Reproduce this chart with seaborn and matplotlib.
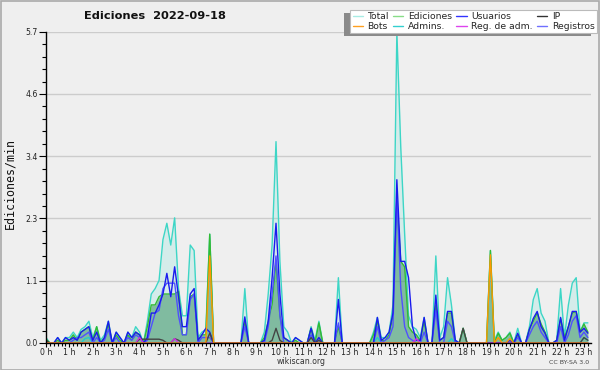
import numpy as np
import pandas as pd
import matplotlib
matplotlib.use("Agg")
import matplotlib.pyplot as plt
import seaborn as sns
from matplotlib.lines import Line2D
from matplotlib.patches import Rectangle
from matplotlib.ticker import FixedLocator, MultipleLocator

# ---- data: edits per minute, one value per 10-minute slot (0:00 .. 23:10) ----
hour_labels = [f"{h} h" for h in range(24)]

total = [
    0.1, 0, 0, 0.1, 0, 0.1,
    0.1, 0.2, 0.1, 0.25, 0.3, 0.4,
    0.1, 0.3, 0.05, 0.15, 0.4, 0,
    0.2, 0.1, 0, 0.2, 0.1, 0.3,
    0.2, 0, 0.4, 0.9, 1.0, 1.15,
    1.9, 2.2, 1.8, 2.3, 1.0, 0.5,
    0.5, 1.8, 1.7, 0.1, 0.2, 0.25,
    2.0, 0, 0, 0, 0, 0,
    0, 0, 0, 1.0, 0, 0,
    0, 0, 0.2, 0.9, 1.8, 3.7,
    1.5, 0.3, 0.2, 0, 0.1, 0.05,
    0, 0, 0.3, 0.05, 0.4, 0,
    0, 0, 0, 1.2, 0, 0,
    0, 0, 0, 0, 0, 0,
    0.2, 0.47, 0.1, 0.1, 0.2, 0.7,
    5.72, 3.6, 2.0, 0.5, 0.3, 0.25,
    0.1, 0.47, 0, 0, 1.6, 0.1,
    0.3, 1.2, 0.7, 0.05, 0, 0.27,
    0, 0, 0, 0, 0, 0,
    1.7, 0.05, 0.2, 0.05, 0.1, 0.2,
    0, 0.27, 0, 0, 0.3, 0.8,
    1.0, 0.55, 0.4, 0, 0, 0.05,
    1.0, 0.1, 0.7, 1.1, 1.2, 0.2,
    0.37, 0.37,
]

ediciones = [
    0.07, 0, 0, 0.05, 0, 0.05,
    0.05, 0.15, 0.05, 0.2, 0.25, 0.3,
    0.05, 0.3, 0, 0.1, 0.35, 0,
    0.15, 0.05, 0, 0.15, 0.05, 0.2,
    0.15, 0, 0.3, 0.7, 0.7, 0.85,
    0.9, 0.9, 0.9, 0.9, 0.95, 0.15,
    0.15, 0.85, 0.9, 0.05, 0.15, 0.15,
    2.0, 0, 0, 0, 0, 0,
    0, 0, 0, 0.4, 0, 0,
    0, 0, 0.1, 0.4, 0.7, 1.5,
    0.5, 0.1, 0.05, 0, 0.05, 0,
    0, 0, 0.27, 0, 0.37, 0,
    0, 0, 0, 0.3, 0, 0,
    0, 0, 0, 0, 0, 0,
    0.15, 0.4, 0.05, 0.05, 0.15, 0.5,
    2.6, 1.5, 1.4, 0.3, 0.2, 0.15,
    0.05, 0.4, 0, 0, 0.7, 0.05,
    0.1, 0.55, 0.55, 0, 0, 0.27,
    0, 0, 0, 0, 0, 0,
    1.7, 0, 0.18, 0.05, 0.1, 0.18,
    0, 0.15, 0, 0, 0.25, 0.4,
    0.55, 0.35, 0.2, 0, 0, 0.05,
    0.45, 0.1, 0.3, 0.55, 0.58, 0.2,
    0.35, 0.2,
]

usuarios = [
    0, 0, 0, 0.1, 0, 0.1,
    0.05, 0.1, 0.05, 0.2, 0.25, 0.3,
    0.05, 0.2, 0, 0.1, 0.4, 0,
    0.2, 0.1, 0, 0.2, 0.1, 0.2,
    0.15, 0, 0.1, 0.55, 0.55, 0.7,
    0.9, 1.28, 0.85, 1.4, 0.85, 0.3,
    0.3, 0.9, 1.0, 0.05, 0.15, 0.27,
    0.2, 0, 0, 0, 0, 0,
    0, 0, 0, 0.48, 0, 0,
    0, 0, 0.05, 0.4, 1.2, 2.2,
    0.9, 0.1, 0.05, 0, 0.1, 0.05,
    0, 0, 0.27, 0, 0.1, 0,
    0, 0, 0, 0.8, 0, 0,
    0, 0, 0, 0, 0, 0,
    0, 0.47, 0.05, 0.1, 0.2, 0.55,
    3.0, 1.5, 1.5, 1.2, 0.3, 0.05,
    0.05, 0.47, 0, 0, 0.88, 0.05,
    0.1, 0.58, 0.58, 0.05, 0, 0,
    0, 0, 0, 0, 0, 0,
    0, 0, 0, 0, 0, 0.05,
    0, 0.18, 0, 0, 0.25, 0.45,
    0.58, 0.3, 0.18, 0, 0, 0.05,
    0.47, 0.05, 0.3, 0.58, 0.58, 0.2,
    0.27, 0.18,
]

registros = [
    0, 0, 0, 0, 0, 0,
    0, 0.05, 0.1, 0.1, 0.15, 0.2,
    0, 0.1, 0, 0.05, 0.25, 0,
    0.1, 0, 0, 0.1, 0.05, 0.15,
    0.1, 0, 0.05, 0.3, 0.55, 0.6,
    1.0, 1.1, 1.1, 1.1, 0.5, 0.15,
    0.15, 0.8, 0.9, 0, 0.1, 0.1,
    0.1, 0, 0, 0, 0, 0,
    0, 0, 0, 0.3, 0, 0,
    0, 0, 0, 0.3, 0.9, 1.6,
    0.5, 0, 0, 0, 0, 0,
    0, 0, 0.15, 0, 0.05, 0,
    0, 0, 0, 0.37, 0, 0,
    0, 0, 0, 0, 0, 0,
    0, 0.3, 0, 0.05, 0.1, 0.3,
    2.7, 1.0, 0.3, 0.1, 0.05, 0,
    0, 0.2, 0, 0, 0.6, 0,
    0, 0.4, 0.3, 0, 0, 0,
    0, 0, 0, 0, 0, 0,
    0, 0, 0, 0, 0, 0,
    0, 0.1, 0, 0, 0.15, 0.3,
    0.4, 0.2, 0.1, 0, 0, 0,
    0.3, 0, 0.15, 0.4, 0.5, 0.1,
    0.2, 0.1,
]

ip = [
    0.05, 0, 0, 0, 0, 0,
    0, 0, 0, 0, 0, 0,
    0, 0, 0, 0, 0, 0,
    0, 0, 0, 0, 0, 0,
    0.07, 0.07, 0.07, 0.07, 0.07, 0.07,
    0.05, 0, 0, 0.08, 0.05, 0,
    0, 0, 0, 0, 0, 0,
    0.18, 0, 0, 0, 0, 0,
    0, 0, 0, 0, 0, 0,
    0, 0, 0, 0, 0.05, 0.27,
    0.05, 0, 0, 0, 0, 0,
    0, 0, 0.1, 0, 0.05, 0,
    0, 0, 0, 0, 0, 0,
    0, 0, 0, 0, 0, 0,
    0, 0, 0, 0, 0, 0,
    0, 0, 0, 0, 0, 0,
    0, 0, 0, 0, 0, 0,
    0, 0, 0, 0, 0, 0.27,
    0, 0, 0, 0, 0, 0,
    0, 0, 0, 0, 0, 0,
    0, 0, 0, 0, 0, 0,
    0, 0, 0, 0, 0, 0,
    0, 0, 0, 0, 0, 0,
    0.1, 0.05,
]

bots = [0.0] * 42 + [1.6] + [0.0] * 71 + [1.62, 0, 0.1, 0, 0, 0.08] + [0.0] * 20
admins = [0.0] * 10 + [0.08, 0.1] + [0.0] * 73 + [0.1] + [0.0] * 18 + [0.08] + [0.0] * 33 + [0.1, 0.05]
reg_adm = [0.0] * 24 + [0.1] + [0.0] * 8 + [0.08] + [0.0] * 61 + [0.08] + [0.0] * 44

# ---- styling ----
sns.set_theme(style="white")
plt.rcParams["font.family"] = ["DejaVu Sans"]
BG = "#efefef"

n = len(total)
df = pd.DataFrame({
    "t": np.arange(n) / 6.0,
    "Total": total, "Ediciones": ediciones, "Usuarios": usuarios,
    "Registros": registros, "IP": ip, "Bots": bots,
    "Admins.": admins, "Reg. de adm.": reg_adm,
})
ymax = max(total)

fig = plt.figure(figsize=(6, 3.7), dpi=100)
fig.patch.set_facecolor(BG)
ax = fig.add_axes([46 / 600, 1 - 343 / 370, (591 - 46) / 600, (343 - 31.7) / 370])
ax.set_facecolor(BG)

lw = 1.0
ax.fill_between(df["t"], df["Total"], color="#40e0d0", alpha=0.15, lw=0, zorder=2)
sns.lineplot(data=df, x="t", y="Total", color="#3dd6c6", lw=lw, estimator=None, ax=ax, zorder=3)
ax.fill_between(df["t"], df["Ediciones"], color="#2e8b57", alpha=0.5, lw=0, zorder=4)
sns.lineplot(data=df, x="t", y="Ediciones", color="#33bb33", lw=lw, estimator=None, ax=ax, zorder=5)
sns.lineplot(data=df, x="t", y="Admins.", color="#22cccc", lw=lw, estimator=None, ax=ax, zorder=6)
sns.lineplot(data=df, x="t", y="Registros", color="#5050ff", lw=lw, estimator=None, ax=ax, zorder=6)
sns.lineplot(data=df, x="t", y="Usuarios", color="#1a1aee", lw=lw, estimator=None, ax=ax, zorder=7)
sns.lineplot(data=df, x="t", y="IP", color="#444444", lw=lw, estimator=None, ax=ax, zorder=8)
sns.lineplot(data=df, x="t", y="Reg. de adm.", color="#cc33dd", lw=lw, estimator=None, ax=ax, zorder=8)
sns.lineplot(data=df, x="t", y="Bots", color="#ff9900", lw=lw, estimator=None, ax=ax, zorder=9)

ax.set_xlim(0, 23.3)
ax.set_ylim(0, ymax)
ax.set_xlabel("")
ax.set_ylabel("")

ax.xaxis.set_major_locator(FixedLocator(range(24)))
ax.set_xticklabels(hour_labels)
ax.xaxis.set_minor_locator(MultipleLocator(1 / 6))
yt = [ymax * k / 5 for k in range(6)]
ax.yaxis.set_major_locator(FixedLocator(yt))
ax.set_yticklabels([f"{v:.1f}" for v in yt])
ax.yaxis.set_minor_locator(FixedLocator([ymax * k / 25 for k in range(26)]))

ax.tick_params(axis="x", which="major", direction="out", length=2.6, width=0.8,
               color="black", labelsize=5.6, pad=0.8, labelcolor="#222222", bottom=True)
ax.tick_params(axis="x", which="minor", direction="out", length=2.0, width=0.8,
               color="black", bottom=True)
ax.tick_params(axis="y", which="major", direction="out", length=5, width=0.8,
               color="black", labelsize=5.6, pad=0.8, labelcolor="#222222", left=True)
ax.tick_params(axis="y", which="minor", direction="out", length=3, width=0.8,
               color="black", left=True)

ax.yaxis.grid(True, which="major", color="#cccccc", lw=1.0)
ax.xaxis.grid(False)
ax.set_axisbelow(True)
for s in ["top", "right"]:
    ax.spines[s].set_visible(False)
for s in ["left", "bottom"]:
    ax.spines[s].set_color("black")
    ax.spines[s].set_linewidth(1.0)
    ax.spines[s].set_zorder(10)

# texts
fig.text(155 / 600, 1 - 16 / 370, "Ediciones  2022-09-18", ha="center", va="center",
         fontsize=8.2, fontweight="bold", color="#111111")
fig.text(10 / 600, 1 - 183 / 370, "Ediciones/min", rotation=90, ha="center", va="center",
         fontsize=8.4, family="DejaVu Sans Mono", color="#111111")
fig.text(301 / 600, 1 - 361 / 370, "wikiscan.org", ha="center", va="center",
         fontsize=5.6, color="#333333")
fig.text(569 / 600, 1 - 362 / 370, "CC BY-SA 3.0", ha="center", va="center",
         fontsize=4.5, color="#444444")

# legend
leg_items = [
    ("Total", "#a8ece4"), ("Bots", "#ffa020"),
    ("Ediciones", "#88dd88"), ("Admins.", "#33d0d0"),
    ("Usuarios", "#3333ff"), ("Reg. de adm.", "#dd44ee"),
    ("IP", "#333333"), ("Registros", "#7070ff"),
]
handles = [Line2D([0], [0], color=c, lw=1.0) for _, c in leg_items]
labels = [l for l, _ in leg_items]
leg = ax.legend(handles, labels, ncol=4, loc="upper right",
                bbox_to_anchor=(597 / 600, 1 - 10 / 370), bbox_transform=fig.transFigure,
                fontsize=6.7, handlelength=1.1, handletextpad=0.5, columnspacing=0.45,
                labelspacing=0.05, borderpad=0.25, borderaxespad=0,
                frameon=True, fancybox=False, framealpha=1.0, edgecolor="#bbbbbb")
leg.get_frame().set_linewidth(0.8)
leg.set_zorder(20)

fig.canvas.draw()
bb = leg.get_window_extent()
sh = Rectangle((bb.x0 - 6, bb.y0 - 3), bb.width, bb.height, transform=None,
               facecolor="#8a8a8a", edgecolor="none", zorder=15)
fig.add_artist(sh)
leg.remove()
fig.add_artist(leg)

# outer border
fig.add_artist(Rectangle((0.5 / 600, 0.5 / 370), 598.5 / 600, 368.5 / 370,
                         transform=fig.transFigure, fill=False, edgecolor="#aaaaaa", lw=1.2))

fig.savefig("out.png", dpi=100, facecolor=BG)
